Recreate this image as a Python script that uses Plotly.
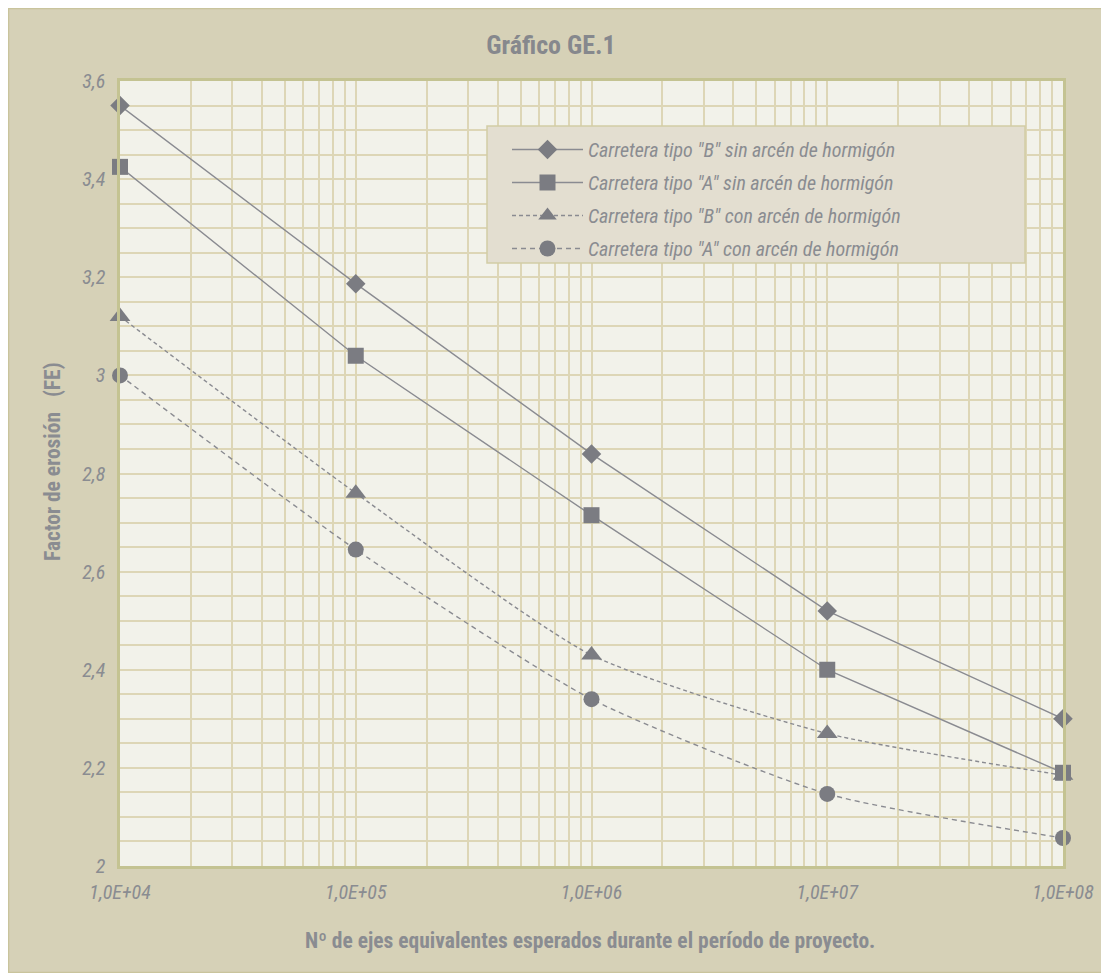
import plotly.graph_objects as go

# ---- data ----
ejes = [1e4, 1e5, 1e6, 1e7, 1e8]
b_sin = [3.55, 3.187, 2.84, 2.52, 2.30]
a_sin = [3.425, 3.04, 2.715, 2.40, 2.19]
b_con = [3.12, 2.76, 2.43, 2.27, 2.185]
a_con = [3.00, 2.645, 2.34, 2.147, 2.057]

names = [
    'Carretera tipo "B" sin arcén de hormigón',
    'Carretera tipo "A" sin arcén de hormigón',
    'Carretera tipo "B" con arcén de hormigón',
    'Carretera tipo "A" con arcén de hormigón',
]
x_tickvals = [1e4, 1e5, 1e6, 1e7, 1e8]
x_ticktext = ["1,0E+04", "1,0E+05", "1,0E+06", "1,0E+07", "1,0E+08"]
y_tickvals = [2.0, 2.2, 2.4, 2.6, 2.8, 3.0, 3.2, 3.4, 3.6]
y_ticktext = ["2", "2,2", "2,4", "2,6", "2,8", "3", "3,2", "3,4", "3,6"]
minor_x = [m * 10 ** e for e in range(4, 8) for m in range(2, 10)]

# ---- style ----
FONT = "Liberation Sans Narrow, Arial Narrow, Roboto Condensed, DejaVu Sans Condensed, Roboto, sans-serif"
TXT = "#8a8c91"
LINE = "#8a8b91"
MARK = "#7b7c82"
PAPER = "#d6d1b7"
PLOTBG = "#f2f2ea"
GRID = "#ddd6b6"

OFF = 8  # page offset of the figure (body margin)
W, H = 1101, 965
# plot area in page coordinates: x 120..1063, y 81..866
L = 120 - OFF
T = 81 - OFF
R = W - (1063 - OFF)
B = H - (866 - OFF)
PW, PH = W - L - R, H - T - B


def px_x(p):
    return (p - OFF - L) / PW


def px_y(p):
    return (H - B - (p - OFF)) / PH


fig = go.Figure()

specs = [
    (b_sin, names[0], "diamond", 15, "solid", "linear", 1),
    (b_con, names[2], "triangle-up", 18, "4px,3px", "spline", 3),
    (a_sin, names[1], "square", 16, "solid", "linear", 2),
    (a_con, names[3], "circle", 16, "5px,4px", "spline", 4),
]
for ys, nm, sym, sz, dash, shape, rank in specs:
    fig.add_trace(go.Scatter(
        x=ejes, y=ys, name=nm, mode="lines+markers",
        line=dict(color=LINE, width=1.4, dash=dash, shape=shape, smoothing=0.6),
        marker=dict(symbol=sym, size=sz, color=MARK, line=dict(width=0)),
        cliponaxis=False, legendrank=rank, legendgroup=nm,
    ))

fig.update_layout(
    width=W, height=H,
    margin=dict(l=L, r=R, t=T, b=B),
    paper_bgcolor=PAPER, plot_bgcolor=PLOTBG,
    font=dict(family=FONT, color=TXT),
    title=dict(text="<b>Gráfico GE.1</b>", x=(551 - OFF) / W, xanchor="center",
               y=1 - (45 - OFF) / H, yanchor="middle", yref="container",
               font=dict(family=FONT, size=26, color="#86888d")),
    showlegend=True,
    legend=dict(
        x=px_x(507), y=px_y(130), xanchor="left", yanchor="top",
        bgcolor="rgba(0,0,0,0)", borderwidth=0,
        font=dict(family=FONT, size=20, color=TXT, style="italic"),
        itemwidth=71, tracegroupgap=4, traceorder="grouped",
    ),
    xaxis=dict(
        type="log", range=[4, 8],
        tickvals=x_tickvals, ticktext=x_ticktext, ticks="",
        tickfont=dict(family=FONT, size=20, color=TXT, style="italic"),
        ticklabelstandoff=6,
        showgrid=True, gridcolor=GRID, gridwidth=1.7,
        minor=dict(tickvals=minor_x, showgrid=True, gridcolor=GRID, gridwidth=1.5, ticks=""),
        showline=True, linecolor="#c4c392", linewidth=2.5, mirror=True,
        zeroline=False,
    ),
    yaxis=dict(
        range=[2, 3.6],
        tickvals=y_tickvals, ticktext=y_ticktext, ticks="",
        tickfont=dict(family=FONT, size=20, color=TXT, style="italic"),
        ticklabelstandoff=8,
        showgrid=True, gridcolor=GRID, gridwidth=1.7,
        minor=dict(dtick=0.05, showgrid=True, gridcolor=GRID, gridwidth=1.5, ticks=""),
        showline=True, linecolor="#c4c392", linewidth=2.5, mirror=True,
        zeroline=False,
    ),
    annotations=[
        dict(text="<b>Factor de erosión&nbsp;&nbsp;&nbsp;(FE)</b>", textangle=-90,
             xref="paper", yref="paper", x=px_x(52), y=px_y(462),
             xanchor="center", yanchor="middle", showarrow=False,
             font=dict(family=FONT, size=21.5, color=TXT)),
        dict(text="<b>Nº de ejes equivalentes esperados durante el período de proyecto.</b>",
             xref="paper", yref="paper", x=px_x(590), y=px_y(940),
             xanchor="center", yanchor="middle", showarrow=False,
             font=dict(family=FONT, size=21.5, color=TXT)),
    ],
    shapes=[
        # legend box
        dict(type="rect", xref="paper", yref="paper", layer="above",
             x0=px_x(487), x1=px_x(1025), y0=px_y(263), y1=px_y(126),
             fillcolor="#e3ded0", line=dict(color="#d2cda5", width=1.5)),
        # outer frame line
        dict(type="rect", xref="paper", yref="paper", layer="above",
             x0=px_x(OFF + 0.5), x1=px_x(OFF + W + 5), y0=px_y(OFF + H - 0.5), y1=px_y(OFF + 0.5),
             fillcolor="rgba(0,0,0,0)", line=dict(color="#c9c49c", width=1.5)),
    ],
)

fig.write_html("out.html")
